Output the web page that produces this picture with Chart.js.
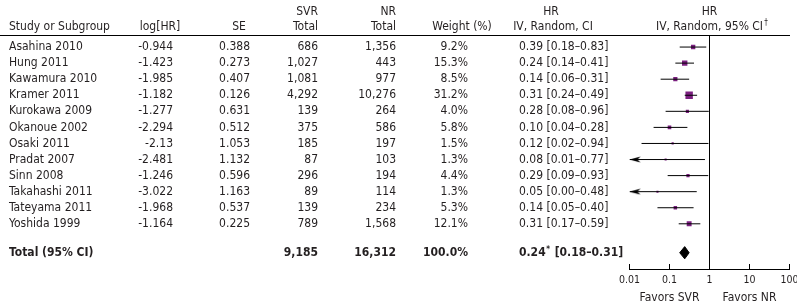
<!DOCTYPE html>
<html>
<head>
<meta charset="utf-8">
<script src="https://cdn.jsdelivr.net/npm/chart.js@4.4.1/dist/chart.umd.min.js"></script>
<style>
  html, body { margin: 0; padding: 0; background: #fff; }
  #wrap { width: 797px; height: 308px; }
</style>
</head>
<body>
<div id="wrap"><canvas id="forest" width="797" height="308"></canvas></div>
<script>
// study rows
const studies = ['Asahina 2010', 'Hung 2011', 'Kawamura 2010', 'Kramer 2011', 'Kurokawa 2009', 'Okanoue 2002',
  'Osaki 2011', 'Pradat 2007', 'Sinn 2008', 'Takahashi 2011', 'Tateyama 2011', 'Yoshida 1999'];
const logHR = [-0.944, -1.423, -1.985, -1.182, -1.277, -2.294, -2.13, -2.481, -1.246, -3.022, -1.968, -1.164];
const se = [0.388, 0.273, 0.407, 0.126, 0.631, 0.512, 1.053, 1.132, 0.596, 1.163, 0.537, 0.225];
const svrTotal = [686, 1027, 1081, 4292, 139, 375, 185, 87, 296, 89, 139, 789];
const nrTotal = [1356, 443, 977, 10276, 264, 586, 197, 103, 194, 114, 234, 1568];
const weights = [9.2, 15.3, 8.5, 31.2, 4.0, 5.8, 1.5, 1.3, 4.4, 1.3, 5.3, 12.1];
const hr = [0.39, 0.24, 0.14, 0.31, 0.28, 0.10, 0.12, 0.08, 0.29, 0.05, 0.14, 0.31];
const ciLow = [0.18, 0.14, 0.06, 0.24, 0.08, 0.04, 0.02, 0.01, 0.09, 0.00, 0.05, 0.17];
const ciHigh = [0.83, 0.41, 0.31, 0.49, 0.96, 0.28, 0.94, 0.77, 0.93, 0.48, 0.40, 0.59];

// pooled result
const totalSvr = 9185;
const totalNr = 16312;
const totalWeight = 100.0;
const totalHR = 0.24;
const totalCI = [0.18, 0.31];

// axis
const xTicks = [0.01, 0.1, 1, 10, 100];
const xTickLabels = ['0.01', '0.1', '1', '10', '100'];

const FONT = "'Liberation Sans Narrow', 'DejaVu Sans Condensed', 'Liberation Sans', sans-serif";
const PURPLE = '#7b1f80';
const X_MIN = 0.01;
const TOTAL_ROW = 12.8; // total sits a bit lower than the last study

// small arrow for CIs that run off the left end, tip at the image centre
const arrow = document.createElement('canvas');
arrow.width = 24; arrow.height = 7;
(function () {
  const c = arrow.getContext('2d');
  c.fillStyle = '#000';
  c.beginPath();
  c.moveTo(12, 3.5);
  c.lineTo(23, 0.5);
  c.lineTo(20, 3.5);
  c.lineTo(23, 6.5);
  c.closePath();
  c.fill();
})();

const fmt = n => n.toLocaleString('en-US');
const ci = (h, l, u) => h.toFixed(2) + ' [' + l.toFixed(2) + '\u2013' + u.toFixed(2) + ']';

// error bar segments, gaps between studies
const barData = [];
studies.forEach((s, i) => {
  barData.push({ x: Math.max(ciLow[i], X_MIN), y: i });
  barData.push({ x: ciHigh[i], y: i });
  barData.push({ x: 1, y: null });
});

const arrowData = [];
studies.forEach((s, i) => {
  if (ciLow[i] <= X_MIN) arrowData.push({ x: X_MIN, y: i });
});

const yScaleMin = -0.75, yScaleMax = 13.8125;

const tablePlugin = {
  id: 'table',
  afterDraw(chart) {
    const ctx = chart.ctx;
    const y = chart.scales.y;
    const x = chart.scales.x;
    ctx.save();
    ctx.fillStyle = '#231f20';
    ctx.textBaseline = 'middle';

    const put = (t, px, py, align, bold, size) => {
      ctx.font = (bold ? 'bold ' : '') + (size || 12) + 'px ' + FONT;
      ctx.textAlign = align;
      ctx.fillText(t, px, py);
    };

    // headers
    const h1 = 12, h2 = 27;
    put('Study or Subgroup', 9, h2, 'left');
    put('log[HR]', 160, h2, 'center');
    put('SE', 239, h2, 'center');
    put('SVR', 318, h1, 'right');
    put('Total', 318, h2, 'right');
    put('NR', 396, h1, 'right');
    put('Total', 396, h2, 'right');
    put('Weight (%)', 462, h2, 'center');
    put('HR', 551, h1, 'center');
    put('IV, Random, CI', 553, h2, 'center');
    const px1 = x.getPixelForValue(1);
    put('HR', px1, h1, 'center');
    put('IV, Random, 95% CI', px1, h2, 'center');
    ctx.font = '12px ' + FONT;
    const w = ctx.measureText('IV, Random, 95% CI').width;
    put('\u2020', px1 + w / 2 + 3, h2 - 4, 'center', false, 8);

    // rule under header
    ctx.strokeStyle = '#000';
    ctx.lineWidth = 1;
    ctx.beginPath();
    ctx.moveTo(0, 35.5);
    ctx.lineTo(790, 35.5);
    ctx.stroke();

    // study rows
    studies.forEach((s, i) => {
      const py = y.getPixelForValue(i);
      put(s, 9, py, 'left');
      put(String(logHR[i]), 173, py, 'right');
      put(String(se[i]), 250, py, 'right');
      put(fmt(svrTotal[i]), 318, py, 'right');
      put(fmt(nrTotal[i]), 396, py, 'right');
      put(weights[i].toFixed(1) + '%', 468, py, 'right');
      put(ci(hr[i], ciLow[i], ciHigh[i]), 519, py, 'left');
    });

    // total row
    const pt = y.getPixelForValue(TOTAL_ROW);
    put('Total (95% CI)', 9, pt, 'left', true);
    put(fmt(totalSvr), 318, pt, 'right', true);
    put(fmt(totalNr), 396, pt, 'right', true);
    put(totalWeight.toFixed(1) + '%', 468, pt, 'right', true);
    ctx.font = 'bold 12px ' + FONT;
    const a = totalHR.toFixed(2);
    put(a, 519, pt, 'left', true);
    const aw = ctx.measureText(a).width;
    put('*', 519 + aw + 0.5, pt - 3, 'left', true, 8);
    put('[' + totalCI[0].toFixed(2) + '\u2013' + totalCI[1].toFixed(2) + ']', 519 + aw + 9, pt, 'left', true);

    // favours labels under the axis
    put('Favors SVR', x.getPixelForValue(0.1), 298, 'center');
    put('Favors NR', x.getPixelForValue(10), 298, 'center');
    ctx.restore();
  }
};

new Chart(document.getElementById('forest'), {
  type: 'scatter',
  data: {
    datasets: [
      {
        // line of no effect
        type: 'line',
        data: [{ x: 1, y: yScaleMin }, { x: 1, y: yScaleMax }],
        borderColor: '#000',
        borderWidth: 1,
        pointRadius: 0,
        fill: false
      },
      {
        type: 'line',
        data: barData,
        borderColor: '#000',
        borderWidth: 1,
        pointRadius: 0,
        spanGaps: false,
        fill: false
      },
      {
        data: arrowData,
        pointStyle: arrow,
        pointRadius: 5
      },
      {
        data: hr.map((v, i) => ({ x: v, y: i })),
        pointStyle: 'rect',
        pointRadius: weights.map(v => 0.5 + 0.85 * Math.sqrt(v)),
        backgroundColor: PURPLE,
        borderWidth: 0
      },
      {
        // pooled diamond
        type: 'line',
        data: [
          { x: totalCI[0], y: TOTAL_ROW },
          { x: totalHR, y: TOTAL_ROW - 0.38 },
          { x: totalCI[1], y: TOTAL_ROW },
          { x: totalHR, y: TOTAL_ROW + 0.38 },
          { x: totalCI[0], y: TOTAL_ROW }
        ],
        borderColor: '#000',
        backgroundColor: '#000',
        borderWidth: 1,
        pointRadius: 0,
        fill: 'shape'
      }
    ]
  },
  options: {
    responsive: false,
    animation: false,
    devicePixelRatio: 1,
    layout: { padding: { left: 629.5, right: 7.5, top: 35, bottom: 0 } },
    plugins: { legend: { display: false }, tooltip: { enabled: false } },
    scales: {
      x: {
        type: 'logarithmic',
        min: 0.01,
        max: 100,
        afterBuildTicks: s => { s.ticks = xTicks.map(v => ({ value: v })); },
        afterFit: s => { s.height = 39; s.paddingLeft = 0; s.paddingRight = 0; },
        ticks: {
          autoSkip: false,
          maxRotation: 0,
          color: '#231f20',
          padding: 10,
          font: { family: FONT, size: 10.5 },
          callback: (v) => xTickLabels[xTicks.indexOf(v)]
        },
        grid: { drawOnChartArea: false, tickLength: -5, color: '#000', lineWidth: 1 },
        border: { color: '#000', width: 1 }
      },
      y: {
        type: 'linear',
        min: yScaleMin,
        max: yScaleMax,
        reverse: true,
        display: false
      }
    }
  },
  plugins: [tablePlugin]
});
</script>
</body>
</html>
